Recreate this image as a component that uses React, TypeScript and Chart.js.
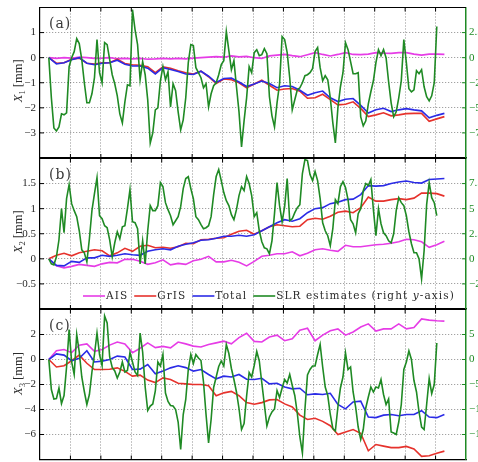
import { useEffect, useRef } from 'react';
import { Chart, registerables } from 'chart.js';

Chart.register(...registerables);

// ---- time axis (decimal years) ----
const YEAR_MIN = 2002;
const YEAR_MAX = 2016;
const SERIES_START = 2002.29; // first solution, April 2002
const SLR_STEP = 1 / 12; // SLR geocentre solutions: monthly
const MASS_STEP = 0.25; // ice-mass induced geocentre motion: quarterly samples

// ---- X1 component (mm) ----
const aisX1 = [
  0, -0.03, 0, -0.02, 0.02, 0, -0.03, -0.02, 0, -0.04,
  -0.03, -0.05, -0.03, -0.06, -0.05, -0.03, -0.05, -0.03, -0.05, -0.02,
  0, 0.02, 0.04, 0.02, 0.07, 0.03, 0.05, 0, -0.03, 0.07,
  0.1, 0.13, 0.08, 0.04, 0.12, 0.2, 0.13, 0.07, 0.13, 0.2,
  0.13, 0.12, 0.14, 0.2, 0.18, 0.17, 0.2, 0.2, 0.14, 0.1,
  0.14, 0.14, 0.13,
];
const grisX1 = [
  0, -0.22, -0.2, -0.06, -0.02, -0.22, -0.25, -0.2, -0.2, -0.06,
  -0.23, -0.28, -0.3, -0.36, -0.6, -0.37, -0.42, -0.52, -0.6, -0.65,
  -0.54, -0.76, -1.03, -0.85, -0.88, -1.0, -1.2, -1.05, -0.9, -1.1,
  -1.3, -1.25, -1.23, -1.34, -1.62, -1.6, -1.46, -1.67, -1.88, -1.86,
  -1.76, -2.02, -2.35, -2.28, -2.2, -2.32, -2.28, -2.23, -2.22, -2.22,
  -2.54, -2.44, -2.35,
];
const totalX1 = [
  0, -0.25, -0.2, -0.08, 0, -0.22, -0.28, -0.22, -0.2, -0.1,
  -0.26, -0.33, -0.33, -0.42, -0.65, -0.4, -0.47, -0.55, -0.65, -0.67,
  -0.54, -0.74, -0.99, -0.83, -0.81, -0.97, -1.15, -1.05, -0.93, -1.03,
  -1.2, -1.12, -1.15, -1.3, -1.5, -1.4, -1.33, -1.6, -1.75, -1.66,
  -1.63, -1.9, -2.21, -2.08, -2.02, -2.15, -2.08, -2.03, -2.08, -2.12,
  -2.4, -2.3, -2.22,
];
const slrX1 = [
  0, -4.0, -7.0, -7.3, -6.9, -5.6, -5.7, -5.5, -0.9, 0,
  0.6, 1.9, 1.4, -0.2, -2.5, -4.5, -4.5, -3.6, -2.0, 1.8,
  -1.5, -2.5, 1.5, 1.3, -0.2, -1.7, -2.6, -3.8, -5.6, -6.5,
  -4.4, -2.7, -2.8, 4.8, 2.8, 1.3, -2.2, -0.4, -1.7, -4.2,
  -8.5, -7.5, -5.2, -5.0, -2.3, -0.9, -2.2, -1.4, -4.9, -2.6,
  -3.3, -5.4, -7.2, -6.2, -4.0, -0.5, 1.3, 1.2, -1.0, -1.5,
  -2.0, -3.0, -2.6, -4.9, -3.6, -2.8, -2.5, -1.7, -0.7, -0.3,
  2.6, 0.7, -1.2, -0.3, -2.9, -5.4, -8.9, -6.3, -4.0, -0.9,
  -1.5, 0.5, 0.8, 0.2, 0.3, 0.9, 0.4, -3.9, -5.8, -6.9,
  -4.5, -2.6, 2.1, 1.8, 0.5, -2.0, -5.2, -4.2, -3.2, -3.0,
  -2.5, -1.8, -1.7, -1.5, -1.1, 0.6, 1.0, -1.0, -2.3, -1.8,
  -2.2, -4.0, -6.5, -8.5, -5.0, -2.9, -1.5, 1.5, 0.8, -0.4,
  -1.6, -1.6, -1.5, -5.9, -6.8, -6.3, -4.6, -3.4, -2.3, -0.5,
  0.8, 0.2, 0.8, 0.0, -2.4, -4.5, -5.9, -5.4, -4.0, -2.3,
  1.8, -0.5, -3.1, -3.4, -3.2, -1.3, -1.6, -1.2, -2.9, -3.9,
  -4.3, -3.8, -2.5, 3.1,
];

// ---- X2 component (mm) ----
const aisX2 = [
  0, -0.14, -0.18, -0.15, -0.11, -0.13, -0.15, -0.1, -0.07, -0.08,
  -0.01, -0.01, -0.05, -0.11, -0.08, -0.02, -0.12, -0.09, -0.11, -0.04,
  -0.01, 0.05, -0.06, -0.06, -0.03, -0.07, -0.14, -0.05, 0.05, 0.07,
  0.1, 0.1, 0.14, 0.06, 0.11, 0.18, 0.2, 0.17, 0.15, 0.27,
  0.24, 0.24, 0.26, 0.28, 0.29, 0.31, 0.34, 0.39, 0.38, 0.34,
  0.23, 0.28, 0.35,
];
const grisX2 = [
  0, 0.07, 0.11, 0.06, 0.12, 0.15, 0.18, 0.16, 0.06, 0.12,
  0.21, 0.15, 0.25, 0.27, 0.22, 0.23, 0.21, 0.24, 0.31, 0.3,
  0.38, 0.39, 0.41, 0.42, 0.49, 0.55, 0.57, 0.49, 0.56, 0.64,
  0.68, 0.66, 0.64, 0.65, 0.78, 0.81, 0.79, 0.85, 0.93, 0.95,
  0.92, 1.02, 1.23, 1.15, 1.15, 1.18, 1.2, 1.18, 1.21, 1.31,
  1.31, 1.3, 1.25,
];
const totalX2 = [
  0, -0.13, -0.14, -0.05, -0.07, 0.02, 0.02, 0.07, 0.05, 0.07,
  0.1, 0.08, 0.07, 0.15, 0.18, 0.2, 0.18, 0.25, 0.29, 0.32,
  0.37, 0.38, 0.41, 0.45, 0.45, 0.47, 0.45, 0.48, 0.56, 0.64,
  0.72, 0.78, 0.75, 0.8, 0.92, 1.0, 1.02, 1.1, 1.13, 1.18,
  1.19, 1.28, 1.46, 1.45, 1.46, 1.5, 1.53, 1.55, 1.52, 1.51,
  1.58, 1.59, 1.6,
];
const slrX2 = [
  0, -0.5, -0.6, 0.2, 1.9, 5.0, 2.6, 6.0, 7.4, 5.5,
  4.8, 4.2, 2.8, 0.9, 0.6, -0.3, 2.0, 4.8, 6.5, 8.1,
  4.3, 4.0, 3.3, 3.1, 1.9, 0.2, 1.6, 2.7, 2.0, 3.2,
  3.3, 5.0, 6.9, 3.7, 3.6, 3.0, -0.5, 1.8, -0.5, 2.8,
  5.3, 4.8, 4.8, 5.3, 7.6, 7.2, 5.6, 4.9, 4.3, 3.4,
  3.8, 4.2, 5.2, 7.0, 8.0, 8.2, 7.0, 6.0, 4.2, 3.9,
  3.4, 3.0, 3.1, 3.3, 4.2, 6.4, 8.2, 8.9, 7.8, 6.6,
  5.8, 5.3, 4.4, 3.9, 4.9, 6.3, 7.2, 6.8, 8.2, 7.5,
  6.3, 4.2, 4.6, 2.8, 1.7, 1.1, 1.0, 0.5, 1.8, 4.5,
  7.6, 5.3, 3.7, 5.2, 8.0, 3.8, 4.0, 4.6, 5.1, 5.4,
  8.5, 9.9, 9.8, 8.4, 7.8, 8.7, 7.8, 6.0, 3.6, 2.8,
  2.3, 1.3, 3.0, 5.9, 5.5, 7.2, 7.7, 7.1, 5.9, 3.9,
  3.5, 2.6, 4.5, 5.0, 6.8, 7.5, 7.3, 7.9, 4.9, 2.3,
  5.0, 3.5, 2.6, 2.3, 1.8, 1.6, 2.5, 4.8, 6.1, 5.6,
  5.3, 4.3, 2.7, 1.5, 0.6, 0.6, 0.0, -2.0, 0.8, 5.4,
  7.6, 6.1, 5.6, 4.3,
];

// ---- X3 component (mm) ----
const aisX3 = [
  0, 0.7, 0.8, 0.55, 1.15, 1.25, 0.65, 0.8, 1.15, 1.4,
  1.25, 0.55, 0.9, 1.33, 0.95, 1.05, 0.93, 1.4, 1.25, 1.07,
  1.0, 1.2, 1.33, 1.47, 1.25, 1.75, 2.1, 1.45, 1.4, 1.8,
  1.95, 1.5, 1.65, 2.35, 2.5, 1.5, 1.95, 2.3, 2.45, 1.95,
  2.2, 2.6, 2.85, 2.27, 2.45, 2.45, 2.85, 2.45, 2.55, 3.25,
  3.15, 3.1, 3.07,
];
const grisX3 = [
  0, -0.6, -0.5, -0.1, 0.35, -0.3, -0.8, -0.8, -0.78, -0.67,
  -0.95, -1.33, -1.25, -1.65, -1.85, -1.47, -1.6, -1.9, -1.95, -2.0,
  -2.0, -2.1, -2.9, -2.67, -2.55, -2.9, -3.45, -3.58, -3.45, -3.23,
  -3.2, -3.55, -3.8, -4.45, -4.8, -4.7, -4.95, -5.3, -6.0, -5.8,
  -5.6, -5.9, -7.3, -6.8, -6.93, -7.05, -7.05, -6.95, -7.15, -7.75,
  -7.7, -7.5, -7.33,
];
const totalX3 = [
  0, 0.45, 0.35, -0.1, 0.1, 0.7, -0.2, -0.13, 0, 0.27,
  0.2, -0.8, -0.77, -0.4, -1.15, -0.93, -0.67, -0.5, -0.65, -0.93,
  -0.8, -1.2, -1.55, -1.33, -1.4, -1.2, -1.58, -1.6, -1.5, -1.95,
  -1.9, -2.2, -2.35, -2.3, -2.82, -2.75, -2.8, -2.7, -3.6, -3.95,
  -3.4, -3.33, -4.6, -4.65, -4.45, -4.4, -4.5, -4.4, -4.4, -4.1,
  -4.6, -4.65, -4.4,
];
const slrX3 = [
  0, -6.0, -7.9, -7.8, -5.7, -8.8, -7.2, -1.5, 6.0, -0.5,
  -3.0, 5.0, 1.5, -3.5, -6.4, -9.0, -7.0, -2.5, 1.0, 5.3,
  1.0, -1.2, 8.7, 7.3, 0.5, -1.6, -2.3, -3.7, -2.5, -0.5,
  -2.5, -2.2, 1.4, -0.5, -2.5, -3.2, 5.3, 1.5, -5.5, -10.2,
  -9.3, -8.9, -6.3, -0.5, -1.3, 1.0, -6.7, -8.4, -9.2, -9.3,
  -10.0, -12.5, -18.0, -11.0, -8.0, -2.0, 1.0, -0.8, 1.0, 0.3,
  -0.2, -4.5, -11.0, -16.7, -12.0, -5.6, -3.5, -1.4, -0.3, -1.3,
  3.0, 1.2, -1.8, -4.0, -6.5, -9.8, -14.0, -12.8, -7.3, -2.6,
  -3.5, -1.2, 1.6, -0.3, -4.7, -9.0, -13.3, -11.5, -10.5, -9.9,
  -6.2, -7.6, -5.7, -4.0, -4.7, -3.0, -5.2, -7.2, -10.8, -15.5,
  -18.7, -10.0, -3.1, -2.0, -1.3, -1.3, 1.0, 3.0, -1.5, -5.5,
  -7.2, -11.0, -13.8, -14.3, -9.5, -5.7, -3.5, 1.3, -2.0, -1.5,
  -6.5, -9.5, -13.5, -16.0, -14.0, -9.7, -7.5, -5.5, -6.5, -5.5,
  -5.7, -4.0, -7.0, -9.0, -7.9, -14.5, -14.7, -15.0, -12.5, -9.0,
  -2.0, -0.5, 1.7, 0.0, -4.2, -6.5, -10.5, -13.5, -14.0, -9.0,
  -3.8, -6.8, -5.0, 3.3,
];

// ---- axis ranges: [min, max, step] ----
const mmRangeX1 = [-4, 2, 1];
const slrRangeX1 = [-10, 5, 2.5];
const mmRangeX2 = [-1, 2, 0.5];
const slrRangeX2 = [-5, 10, 2.5];
const mmRangeX3 = [-8, 4, 2];
const slrRangeX3 = [-20, 10, 5];

const LABEL_AIS = 'AIS';
const LABEL_GRIS = 'GrIS';
const LABEL_TOTAL = 'Total';
const LABEL_SLR = 'SLR estimates (right y-axis)';

// ---- styling ----
const W = 478;
const H = 462;
const C_AIS = '#e63ce6';
const C_GRIS = '#e6322c';
const C_TOTAL = '#2b2be6';
const C_SLR = '#1f8a24';
const GRID = 'rgba(0,0,0,0.45)';
const INK = '#2a2a2a';
const TICK_FONT = { family: '"Liberation Serif", serif', size: 11 };

type Panel = {
  tag: string;
  comp: string;
  ais: number[];
  gris: number[];
  total: number[];
  slr: number[];
  mm: number[];
  slrRange: number[];
  padTop: number;
  padBottom: number;
  titleShift: number;
  legend: boolean;
};

const PANELS: Panel[] = [
  { tag: '(a)', comp: '1', ais: aisX1, gris: grisX1, total: totalX1, slr: slrX1, mm: mmRangeX1, slrRange: slrRangeX1, padTop: 7.5, padBottom: 304, titleShift: -2, legend: false },
  { tag: '(b)', comp: '2', ais: aisX2, gris: grisX2, total: totalX2, slr: slrX2, mm: mmRangeX2, slrRange: slrRangeX2, padTop: 158.5, padBottom: 153, titleShift: -2, legend: true },
  { tag: '(c)', comp: '3', ais: aisX3, gris: grisX3, total: totalX3, slr: slrX3, mm: mmRangeX3, slrRange: slrRangeX3, padTop: 309.5, padBottom: 2.5, titleShift: -11, legend: false },
];

const toPoints = (vals: number[], step: number) =>
  vals.map((y, i) => ({ x: SERIES_START + i * step, y }));

const fmt = (v: number) => String(Number(v.toFixed(2))).replace('-', '\u2212');

const innerTicks = (s: any) => {
  s.ticks = s.ticks.filter((t: any) => t.value > s.min + 1e-9 && t.value < s.max - 1e-9);
};

function line(ctx: CanvasRenderingContext2D, x1: number, y1: number, x2: number, y2: number) {
  ctx.beginPath();
  ctx.moveTo(x1, y1);
  ctx.lineTo(x2, y2);
  ctx.stroke();
}

function drawParts(ctx: any, parts: { t: string; font: string; dy?: number }[], x: number, y: number) {
  let cx = x;
  for (const p of parts) {
    ctx.font = p.font;
    ctx.fillText(p.t, cx, y + (p.dy || 0));
    cx += ctx.measureText(p.t).width;
  }
  return cx;
}

function partsWidth(ctx: any, parts: { t: string; font: string }[]) {
  let w = 0;
  for (const p of parts) {
    ctx.font = p.font;
    w += ctx.measureText(p.t).width;
  }
  return w;
}

function makeDecor(p: Panel) {
  return {
    id: 'panelDecor',
    afterDraw(chart: any) {
      const { ctx, chartArea: a, scales } = chart;
      ctx.save();
      // top edge of the frame
      ctx.strokeStyle = '#000';
      ctx.lineWidth = 1.2;
      line(ctx, a.left, a.top, a.right, a.top);
      // inward tick marks
      ctx.lineWidth = 1;
      for (const t of scales.x.ticks) {
        const px = scales.x.getPixelForValue(t.value);
        line(ctx, px, a.bottom, px, a.bottom - 4);
        line(ctx, px, a.top, px, a.top + 4);
      }
      for (const t of scales.y.ticks) {
        const py = scales.y.getPixelForValue(t.value);
        line(ctx, a.left, py, a.left + 4, py);
      }
      ctx.strokeStyle = C_SLR;
      for (const t of scales.yr.ticks) {
        const py = scales.yr.getPixelForValue(t.value);
        line(ctx, a.right, py, a.right - 4, py);
      }

      // panel tag
      ctx.fillStyle = '#3a3a3a';
      ctx.font = '14px "DejaVu Serif", serif';
      ctx.letterSpacing = '1px';
      ctx.textBaseline = 'alphabetic';
      ctx.fillText(p.tag, a.left + 9, a.top + 20);
      ctx.letterSpacing = '0px';

      // y-axis title: X_n [mm]
      const serif = '"Liberation Serif", serif';
      const title = [
        { t: 'X', font: `italic 12.5px ${serif}` },
        { t: p.comp, font: `8.5px ${serif}`, dy: 3 },
        { t: ' [mm]', font: `12.5px ${serif}` },
      ];
      ctx.fillStyle = INK;
      ctx.save();
      ctx.translate(18, (a.top + a.bottom) / 2 + p.titleShift);
      ctx.rotate(-Math.PI / 2);
      const tw = partsWidth(ctx, title);
      drawParts(ctx, title, -tw / 2, 4);
      ctx.restore();

      // legend row inside panel (b)
      if (p.legend) {
        const y = a.bottom - 13;
        let x = a.left + 43;
        const lf = '10.5px "DejaVu Serif", serif';
        const lfi = 'italic 10.5px "DejaVu Serif", serif';
        ctx.letterSpacing = '1.1px';
        ctx.textBaseline = 'middle';
        const items = [
          { color: C_AIS, parts: [{ t: LABEL_AIS, font: lf }] },
          { color: C_GRIS, parts: [{ t: LABEL_GRIS, font: lf }] },
          { color: C_TOTAL, parts: [{ t: LABEL_TOTAL, font: lf }] },
          {
            color: C_SLR,
            parts: [
              { t: 'SLR estimates (right ', font: lf },
              { t: 'y', font: lfi },
              { t: '-axis)', font: lf },
            ],
          },
        ];
        for (const it of items) {
          ctx.strokeStyle = it.color;
          ctx.lineWidth = 1.6;
          line(ctx, x, y, x + 22, y);
          x += 23;
          ctx.fillStyle = INK;
          x = drawParts(ctx, it.parts, x, y + 0.5) + 6;
        }
        ctx.letterSpacing = '0px';
      }
      ctx.restore();
    },
  };
}

function makeChart(canvas: HTMLCanvasElement, p: Panel) {
  const lineDs = (label: string, vals: number[], step: number, color: string, axis: string, order: number) => ({
    label,
    data: toPoints(vals, step),
    borderColor: color,
    backgroundColor: color,
    borderWidth: 1.6,
    pointRadius: 0,
    tension: 0,
    fill: false,
    yAxisID: axis,
    order,
  });

  return new Chart(canvas, {
    type: 'line',
    data: {
      datasets: [
        lineDs(LABEL_SLR, p.slr, SLR_STEP, C_SLR, 'yr', 0),
        lineDs(LABEL_TOTAL, p.total, MASS_STEP, C_TOTAL, 'y', 1),
        lineDs(LABEL_GRIS, p.gris, MASS_STEP, C_GRIS, 'y', 2),
        lineDs(LABEL_AIS, p.ais, MASS_STEP, C_AIS, 'y', 3),
      ],
    },
    options: {
      animation: false,
      responsive: false,
      events: [],
      layout: { padding: { left: 0, right: 0, top: p.padTop, bottom: p.padBottom } },
      plugins: { legend: { display: false }, tooltip: { enabled: false } },
      scales: {
        x: {
          type: 'linear',
          min: YEAR_MIN,
          max: YEAR_MAX,
          ticks: { stepSize: 1, display: false },
          grid: { color: GRID, lineWidth: 1, drawTicks: false },
          border: { display: true, color: '#000', width: 1.2, dash: [1, 2] },
          afterBuildTicks: innerTicks,
          afterFit: (s: any) => {
            s.height = 0;
            s.paddingLeft = 0;
            s.paddingRight = 0;
          },
        },
        y: {
          type: 'linear',
          position: 'left',
          min: p.mm[0],
          max: p.mm[1],
          ticks: { stepSize: p.mm[2], font: TICK_FONT, color: INK, padding: 4, callback: (v: any) => fmt(Number(v)), autoSkip: false },
          grid: { color: GRID, lineWidth: 1, drawTicks: false },
          border: { display: true, color: '#000', width: 1.2, dash: [1, 2] },
          afterBuildTicks: innerTicks,
          afterFit: (s: any) => {
            s.width = 40;
            s.paddingTop = 0;
            s.paddingBottom = 0;
          },
        },
        yr: {
          type: 'linear',
          position: 'right',
          min: p.slrRange[0],
          max: p.slrRange[1],
          ticks: { stepSize: p.slrRange[2], font: TICK_FONT, color: C_SLR, padding: 3, callback: (v: any) => fmt(Number(v)), autoSkip: false },
          grid: { drawOnChartArea: false, drawTicks: false },
          border: { display: true, color: C_SLR, width: 1.5 },
          afterBuildTicks: innerTicks,
          afterFit: (s: any) => {
            s.width = W - 466;
            s.paddingTop = 0;
            s.paddingBottom = 0;
          },
        },
      },
    },
    plugins: [makeDecor(p)],
  } as any);
}

export default function App() {
  const refs = [useRef<HTMLCanvasElement>(null), useRef<HTMLCanvasElement>(null), useRef<HTMLCanvasElement>(null)];

  useEffect(() => {
    const charts = PANELS.map((p, i) => makeChart(refs[i].current as HTMLCanvasElement, p));
    return () => charts.forEach((c) => c.destroy());
  }, []);

  return (
    <div style={{ position: 'fixed', left: 0, top: 0, width: W, height: H, background: '#fff', overflow: 'hidden' }}>
      {PANELS.map((p, i) => (
        <canvas
          key={p.tag}
          ref={refs[i]}
          width={W}
          height={H}
          style={{ position: 'absolute', left: 0, top: 0, width: W, height: H }}
        />
      ))}
    </div>
  );
}
